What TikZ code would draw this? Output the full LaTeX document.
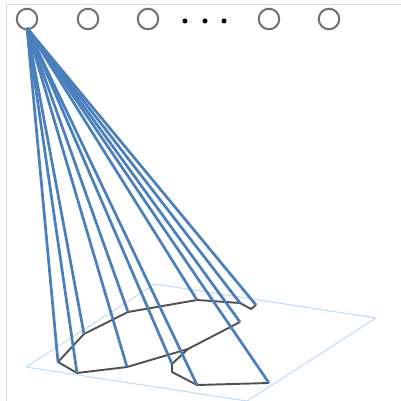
\documentclass[tikz,border=0pt]{standalone}
\definecolor{rayblue}{HTML}{4A7FBE}
\definecolor{planeblue}{HTML}{C4DDF8}
\definecolor{ringgray}{HTML}{707070}
\definecolor{framegray}{HTML}{DADADA}
\definecolor{edgegray}{HTML}{505050}
\tikzset{
  ring/.style={circle,draw=ringgray,line width=2pt,minimum size=20.5pt,inner sep=0pt,fill=white},
  bead/.style={circle,fill=black,minimum size=5pt,inner sep=0pt},
  ray/.style={draw=rayblue,line width=2.7pt},
  outline/.style={draw=edgegray,line width=1.9pt,line join=round},
  plane/.style={draw=planeblue,line width=1.1pt,line join=round},
  frameline/.style={draw=framegray,line width=0.8pt}
}
\begin{document}
\begin{tikzpicture}[x=1pt,y=-1pt]
\useasboundingbox (0,0) rectangle (401,401);
\fill[white] (0,0) rectangle (401,401);
\coordinate (f1) at (401,4.5);\coordinate (f2) at (6,4.5);\coordinate (f3) at (6,401);
\draw[frameline] (f1) -- (f2) -- (f3);
% plane
\coordinate (pa) at (26,367);\coordinate (pb) at (155,284);\coordinate (pc) at (376,318);\coordinate (pd) at (247,401);
\begin{scope}
\clip (0,0) rectangle (401,401);
\draw[plane] (pa) -- (pb) -- (pc) -- (pd) -- cycle;
\end{scope}
% circles
\node[ring] (c1) at (27,19) {};
\node[ring] (c2) at (88,19) {};
\node[ring] (c3) at (148,19) {};
\node[ring] (c4) at (269,19) {};
\node[ring] (c5) at (329,19) {};
\node[bead] (d1) at (185,21) {};
\node[bead] (d2) at (205,21) {};
\node[bead] (d3) at (224,21) {};
% outline points
\coordinate (apex) at (27,28);
\coordinate (a1) at (58,362);
\coordinate (a2) at (77,373);
\coordinate (a3) at (127,367);
\coordinate (a4) at (188,349);
\coordinate (a5) at (240,322);
\coordinate (b1) at (84,334);
\coordinate (b2) at (128,312);
\coordinate (b3) at (197,300);
\coordinate (b4) at (240,303);
\coordinate (b5) at (251,309);
\coordinate (b6) at (256,305);
\coordinate (e1) at (172,364);
\coordinate (e2) at (172,372);
\coordinate (e3) at (197,385);
\coordinate (e4) at (269,383);
\draw[outline] (b6) -- (b5) -- (b4) -- (b3) -- (b2) -- (b1) -- (a1) -- (a2) -- (a3) -- (a4) -- (a5);
\draw[outline] (a4) -- (e1) -- (e2) -- (e3) -- (e4);
\foreach \p in {a1,a2,b1,a3,b2,e1,e3,b3,a5,e4,b4,b6}
  \draw[ray] (apex) -- (\p);
\end{tikzpicture}
\end{document}
